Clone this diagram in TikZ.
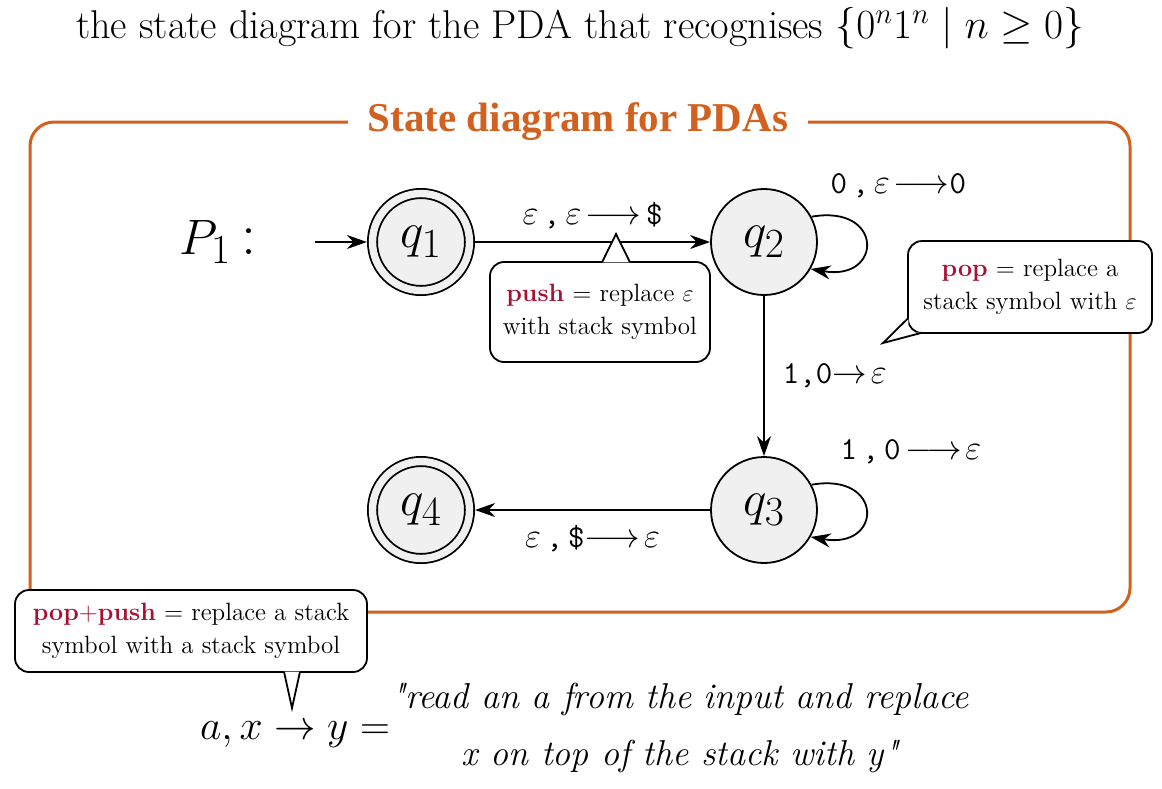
\documentclass[tikz,border=0pt]{standalone}
\usepackage{fontspec}
\usepackage{tikz}
\usetikzlibrary{arrows.meta,positioning,calc}
\newfontfamily\titlefont{Liberation Serif}
\definecolor{frameorange}{RGB}{210,96,30}
\definecolor{opred}{RGB}{168,16,52}
\definecolor{stategray}{RGB}{240,240,240}
\newcommand{\stackop}[1]{\textcolor{opred}{\textbf{#1}}}

\begin{document}
\begin{tikzpicture}[
  x=0.5pt, y=-0.5pt,
  state/.style={circle, draw, line width=0.9pt, fill=stategray, minimum size=53pt, inner sep=0pt, font=\fontsize{28}{32}\selectfont},
  accept/.style={state, double=stategray, double distance=3.7pt, minimum size=48.5pt, outer sep=2.8pt},
  lbl/.style={font=\fontsize{16}{19}\selectfont\ttfamily, inner sep=1pt},
  note/.style={draw, line width=0.9pt, rounded corners=7pt, fill=white, align=center, font=\fontsize{12.5}{16.5}\selectfont, inner sep=0pt},
  flow/.style={-{Stealth[length=10pt,width=7pt]}, line width=0.9pt}
]
\useasboundingbox (0,0) rectangle (1162,788);

% caption and frame
\node[font=\fontsize{20.1}{24}\selectfont] (caption) at (580,28) {the state diagram for the PDA that recognises $\{0^n1^n \mid n \geq 0\}$};
\draw[frameorange, line width=1.5pt, rounded corners=12pt] (30,122) rectangle (1130,612);
\node[fill=white, text=frameorange, font=\titlefont\fontsize{20.5}{24}\selectfont\bfseries, inner xsep=10pt] (frametitle) at (578,122) {State diagram for PDAs};

% states
\node[font=\fontsize{30}{34}\selectfont] (name) at (218,242) {$P_1$\,:};
\node[accept] (q1) at (421,242) {$q_1$};
\node[state] (q2) at (764,242) {$q_2$};
\node[state] (q3) at (764,510) {$q_3$};
\node[accept] (q4) at (421,510) {$q_4$};
\coordinate (start) at (315,242);

% transitions
\draw[flow] (start) -- (q1);
\draw[flow] (q1) -- node[lbl, above=5pt] (l12) {$\varepsilon$\,,\,$\varepsilon\!\longrightarrow$\,\$} (q2);
\draw[flow] (q2.28) to[out=10, in=-10, looseness=3.6] (q2.-30);
\node[lbl, above right=2pt and 13pt of q2.north east] (l22) {0\,,\,$\varepsilon\!\longrightarrow$0};
\draw[flow] (q2) -- node[lbl, right=8pt] (l23) {1,0$\rightarrow\!\varepsilon$} (q3);
\draw[flow] (q3.28) to[out=10, in=-10, looseness=3.6] (q3.-30);
\node[lbl, above right=3pt and 18pt of q3.north east] (l33) {1\,,\,0\,$\longrightarrow\!\varepsilon$};
\draw[flow] (q3) -- node[lbl, below=6pt] (l34) {$\varepsilon$\,,\,\$$\longrightarrow\!\varepsilon$} (q4);

% notes
\node[note, minimum width=110pt, minimum height=50pt] (pushnote) at (600,312) {\stackop{push} = replace $\varepsilon$\\with stack symbol};
\coordinate (pushtip) at (616,234);
\fill[white] ([xshift=-7pt, yshift=-0.6pt]pushnote.north -| pushtip) -- (pushtip) -- ([xshift=7pt, yshift=-0.6pt]pushnote.north -| pushtip) -- cycle;
\draw[line width=0.9pt] ([xshift=-7pt, yshift=-0.6pt]pushnote.north -| pushtip) -- (pushtip) -- ([xshift=7pt, yshift=-0.6pt]pushnote.north -| pushtip);

\node[note, minimum width=122pt, minimum height=46pt] (popnote) at (1030,287) {\stackop{pop} = replace a\\stack symbol with $\varepsilon$};
\coordinate (poptip) at (883,343);
\fill[white] ([xshift=0.6pt]popnote.west |- 0,318) -- (poptip) -- ([yshift=0.6pt]popnote.south -| 922,0) -- ([xshift=0.6pt, yshift=0.6pt]popnote.south west) -- cycle;
\draw[line width=0.9pt] ([xshift=0.6pt]popnote.west |- 0,318) -- (poptip) -- ([yshift=0.6pt]popnote.south -| 922,0);

\node[note, minimum width=176pt, minimum height=41pt] (mixnote) at (191,631) {\stackop{pop{\mdseries+}push} = replace a stack\\symbol with a stack symbol};
\coordinate (mixtip) at (292,708);
\fill[white] ([xshift=-4pt, yshift=0.6pt]mixnote.south -| mixtip) -- (mixtip) -- ([xshift=4pt, yshift=0.6pt]mixnote.south -| mixtip) -- cycle;
\draw[line width=0.9pt] ([xshift=-4pt, yshift=0.6pt]mixnote.south -| mixtip) -- (mixtip) -- ([xshift=4pt, yshift=0.6pt]mixnote.south -| mixtip);

% reading of a transition
\node[font=\fontsize{22}{26}\selectfont] (rule) at (295,735) {$a, x \rightarrow y =$};
\node[font=\fontsize{18}{28.5}\selectfont\itshape, align=center] (meaning) at (680,728) {\textquotedbl read an a from the input and replace\\x on top of the stack with y\textquotedbl};
\end{tikzpicture}
\end{document}
